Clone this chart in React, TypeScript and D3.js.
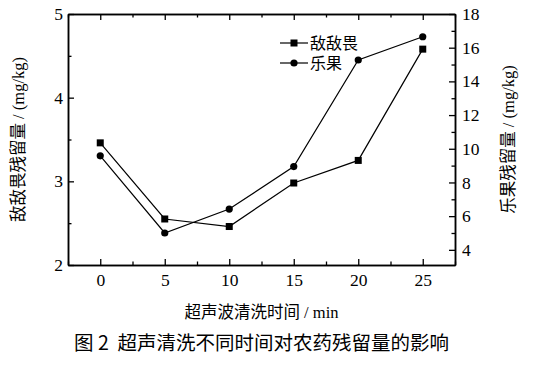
import { useEffect, useRef } from "react";
import * as d3 from "d3";

const WIDTH = 534;
const HEIGHT = 365;
const MARGIN = { top: 14, right: 79, bottom: 100, left: 68 };

// Ultrasonic cleaning time (min)
const times = [0, 5, 10, 15, 20, 25];
// 敌敌畏 residue (mg/kg), left axis
const ddvpValues = [3.46, 2.55, 2.46, 2.98, 3.25, 4.58];
// 乐果 residue (mg/kg), right axis
const dimethoateValues = [9.58, 5.0, 6.42, 8.94, 15.27, 16.65];

const xTicks = [0, 5, 10, 15, 20, 25];
const xMinorTicks = [-2.5, 2.5, 7.5, 12.5, 17.5, 22.5, 27.5];
const leftTicks = [2, 3, 4, 5];
const leftMinorTicks = [2.5, 3.5, 4.5];
const rightTicks = [4, 6, 8, 10, 12, 14, 16, 18];
const rightMinorTicks = [5, 7, 9, 11, 13, 15, 17];

const legendLabels = ["敌敌畏", "乐果"];

const SERIF = "'Liberation Serif', 'Times New Roman', 'Noto Sans CJK SC', serif";

export default function App() {
  const axesRef = useRef<SVGGElement>(null);
  const boundsWidth = WIDTH - MARGIN.left - MARGIN.right;
  const boundsHeight = HEIGHT - MARGIN.top - MARGIN.bottom;

  const xScale = d3.scaleLinear().domain([-2.5, 27.5]).range([0, boundsWidth]);
  const yLeft = d3.scaleLinear().domain([2, 5]).range([boundsHeight, 0]);
  const yRight = d3.scaleLinear().domain([3.1, 18]).range([boundsHeight, 0]);

  useEffect(() => {
    const g = d3.select(axesRef.current);
    g.selectAll("*").remove();
    const fmt = d3.format("d");
    const blank = () => "";

    const style = (sel: any) => {
      sel.select(".domain").attr("stroke", "#000").attr("stroke-width", 1.5);
      sel.selectAll(".tick line").attr("stroke", "#000").attr("stroke-width", 1.3);
      sel.selectAll("text").attr("font-family", SERIF).attr("font-size", 17.5).attr("fill", "#000");
      sel.attr("font-family", null).attr("font-size", null);
    };

    // bottom
    g.append("g")
      .attr("transform", `translate(0,${boundsHeight})`)
      .call(d3.axisBottom(xScale).tickValues(xTicks).tickFormat(fmt).tickSize(-6).tickPadding(8.5).tickSizeOuter(0))
      .call(style);
    g.append("g")
      .attr("transform", `translate(0,${boundsHeight})`)
      .call(d3.axisBottom(xScale).tickValues(xMinorTicks).tickSize(-3.5).tickFormat(blank).tickSizeOuter(0))
      .call(style);
    // top
    g.append("g")
      .call(d3.axisTop(xScale).tickValues(xTicks).tickSize(-6).tickFormat(blank).tickSizeOuter(0))
      .call(style);
    g.append("g")
      .call(d3.axisTop(xScale).tickValues(xMinorTicks).tickSize(-3.5).tickFormat(blank).tickSizeOuter(0))
      .call(style);
    // left
    g.append("g")
      .call(d3.axisLeft(yLeft).tickValues(leftTicks).tickFormat(fmt).tickSize(-6).tickPadding(5).tickSizeOuter(0))
      .call(style);
    g.append("g")
      .call(d3.axisLeft(yLeft).tickValues(leftMinorTicks).tickSize(-3.5).tickFormat(blank).tickSizeOuter(0))
      .call(style);
    // right
    g.append("g")
      .attr("transform", `translate(${boundsWidth},0)`)
      .call(d3.axisRight(yRight).tickValues(rightTicks).tickFormat(fmt).tickSize(-6).tickPadding(7).tickSizeOuter(0))
      .call(style);
    g.append("g")
      .attr("transform", `translate(${boundsWidth},0)`)
      .call(d3.axisRight(yRight).tickValues(rightMinorTicks).tickSize(-3.5).tickFormat(blank).tickSizeOuter(0))
      .call(style);
  }, [xScale, yLeft, yRight, boundsHeight, boundsWidth]);

  const ddvpPath = d3
    .line<number>()
    .x((_, i) => xScale(times[i]))
    .y((d) => yLeft(d))(ddvpValues);
  const dimethoatePath = d3
    .line<number>()
    .x((_, i) => xScale(times[i]))
    .y((d) => yRight(d))(dimethoateValues);

  const legendX = 212;
  const legendY = [29, 49];

  return (
    <svg
      width={WIDTH}
      height={HEIGHT}
      style={{ position: "absolute", left: 0, top: 0, background: "#fff" }}
    >
      <rect width={WIDTH} height={HEIGHT} fill="#fff" />
      <g transform={`translate(${MARGIN.left},${MARGIN.top})`}>
        <path d={ddvpPath || ""} fill="none" stroke="#000" strokeWidth={1.2} />
        <path d={dimethoatePath || ""} fill="none" stroke="#000" strokeWidth={1.2} />
        {ddvpValues.map((v, i) => (
          <rect
            key={"s" + i}
            x={xScale(times[i]) - 3.5}
            y={yLeft(v) - 3.5}
            width={7}
            height={7}
            fill="#000"
          />
        ))}
        {dimethoateValues.map((v, i) => (
          <circle key={"c" + i} cx={xScale(times[i])} cy={yRight(v)} r={3.6} fill="#000" />
        ))}

        {/* legend */}
        {legendLabels.map((label, i) => (
          <g key={label} transform={`translate(${legendX},${legendY[i]})`}>
            <line x1={0} x2={28} y1={0} y2={0} stroke="#000" strokeWidth={1.2} />
            {i === 0 ? (
              <rect x={10.5} y={-3.5} width={7} height={7} fill="#000" />
            ) : (
              <circle cx={14} cy={0} r={3.6} fill="#000" />
            )}
            <text x={30} y={0} dy="0.35em" fontSize={16} fontFamily={SERIF} fill="#000">
              {label}
            </text>
          </g>
        ))}

        <g ref={axesRef} />
      </g>

      {/* axis titles */}
      <text
        transform={`translate(24,${MARGIN.top + boundsHeight / 2}) rotate(-90)`}
        textAnchor="middle"
        fontSize={16.5}
        fontFamily={SERIF}
        fill="#000"
      >
        敌敌畏残留量 / (mg/kg)
      </text>
      <text
        transform={`translate(514,${MARGIN.top + boundsHeight / 2}) rotate(-90)`}
        textAnchor="middle"
        fontSize={16.5}
        fontFamily={SERIF}
        fill="#000"
      >
        乐果残留量 / (mg/kg)
      </text>
      <text
        x={MARGIN.left + boundsWidth / 2}
        y={318}
        textAnchor="middle"
        fontSize={16.5}
        fontFamily={SERIF}
        fill="#000"
      >
        超声波清洗时间 / min
      </text>
      <text
        x={MARGIN.left + boundsWidth / 2}
        y={350}
        textAnchor="middle"
        fontSize={19.5}
        fontFamily="'Noto Sans CJK SC', sans-serif"
        fill="#000"
        style={{ whiteSpace: "pre" }}
      >
        {"图 2  超声清洗不同时间对农药残留量的影响"}
      </text>
    </svg>
  );
}
